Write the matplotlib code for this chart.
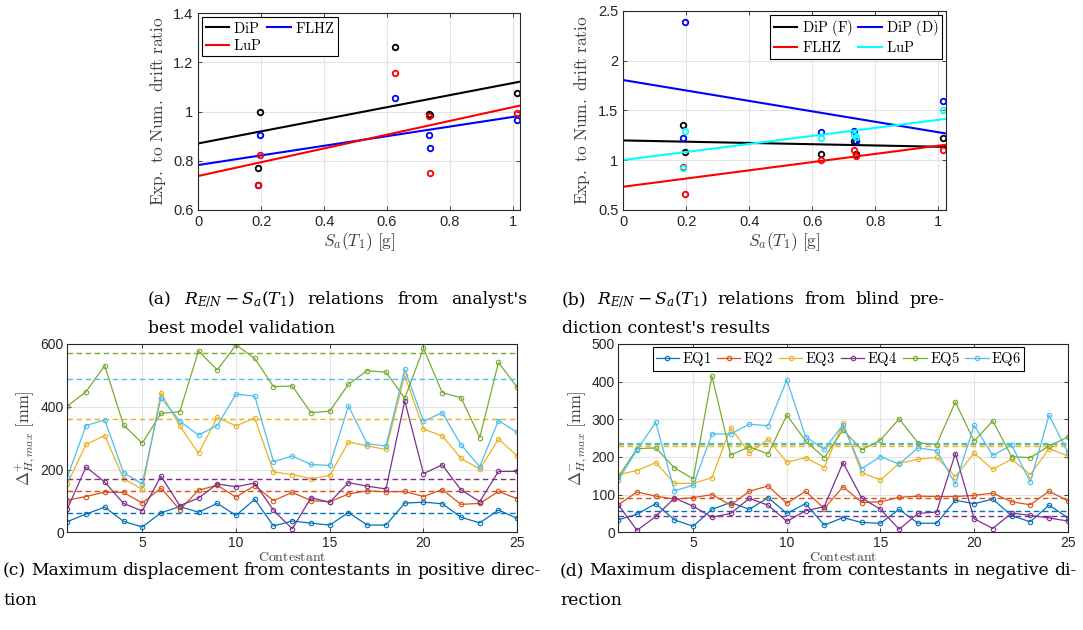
import numpy as np
import matplotlib
matplotlib.use("Agg")
import matplotlib.pyplot as plt

plt.rcParams['mathtext.fontset'] = 'cm'
plt.rcParams['font.family'] = 'Liberation Sans'

# ---- data: top panels (Sa(T1) of the six records) ----
sa = [0.19, 0.197, 0.626, 0.733, 0.738, 1.013]

# (a) analyst's best model
ratio_dip = [0.771, 0.997, 1.263, 0.989, 0.986, 1.077]
ratio_lup = [0.700, 0.822, 1.156, 0.984, 0.752, 0.995]
ratio_flhz = [0.700, 0.904, 1.056, 0.904, 0.852, 0.965]

# (b) blind prediction contest
blind_dipf = [1.354, 1.080, 1.063, 1.197, 1.058, 1.220]
blind_dipd = [1.227, 2.393, 1.287, 1.297, 1.197, 1.599]
blind_flhz = [0.936, 0.661, 0.999, 1.106, 1.042, 1.100]
blind_lup = [0.919, 1.297, 1.224, 1.254, 1.230, 1.502]

# ---- data: bottom panels (25 contestants, EQ1..EQ6) ----
contestant = list(range(1, 26))
eq_names = ['EQ1', 'EQ2', 'EQ3', 'EQ4', 'EQ5', 'EQ6']
eq_colors = ['#0072BD', '#D95319', '#EDB120', '#7E2F8E', '#77AC30', '#4DBEEE']

pos_eq1 = [34, 58, 80, 35, 17, 62, 82, 64, 92, 54, 105, 20, 36, 29, 23, 63, 23, 23, 93, 96, 91, 48, 30, 71, 44]
pos_eq2 = [102, 114, 128, 127, 93, 141, 72, 134, 150, 112, 149, 101, 127, 101, 97, 122, 132, 129, 130, 114, 136, 89, 92, 130, 107]
pos_eq3 = [154, 280, 308, 171, 137, 445, 339, 252, 366, 339, 364, 192, 184, 171, 181, 288, 275, 264, 500, 329, 307, 236, 201, 297, 243]
pos_eq4 = [74, 208, 160, 92, 68, 179, 85, 109, 154, 145, 157, 70, 11, 110, 96, 158, 147, 138, 419, 187, 215, 135, 98, 194, 194]
pos_eq5 = [402, 448, 531, 342, 284, 379, 384, 578, 517, 597, 554, 464, 466, 381, 386, 472, 515, 510, 427, 586, 445, 429, 302, 541, 462]
pos_eq6 = [175, 340, 358, 190, 154, 429, 354, 310, 340, 440, 434, 225, 243, 216, 213, 402, 282, 275, 519, 354, 381, 279, 209, 356, 318]
pos_exp = [62, 133, 360, 170, 570, 490]

neg_eq1 = [33, 48, 76, 33, 16, 61, 79, 61, 92, 50, 76, 19, 39, 26, 24, 61, 24, 24, 85, 76, 88, 44, 28, 72, 39]
neg_eq2 = [73, 107, 96, 88, 92, 100, 72, 109, 123, 77, 109, 63, 121, 79, 81, 93, 96, 95, 95, 98, 104, 81, 73, 109, 84]
neg_eq3 = [153, 164, 185, 130, 130, 145, 278, 210, 247, 186, 198, 172, 289, 158, 139, 183, 194, 199, 148, 210, 167, 194, 153, 222, 203]
neg_eq4 = [73, 5, 42, 91, 69, 40, 50, 90, 72, 29, 57, 68, 185, 91, 61, 8, 50, 54, 209, 36, 10, 51, 45, 38, 30]
neg_eq5 = [147, 222, 224, 171, 142, 415, 205, 227, 208, 311, 243, 198, 272, 219, 245, 301, 238, 233, 346, 242, 296, 201, 198, 229, 253]
neg_eq6 = [139, 219, 292, 110, 125, 261, 261, 287, 283, 404, 254, 220, 286, 169, 201, 181, 224, 217, 128, 284, 204, 232, 134, 311, 213]
neg_exp = [56, 90, 229, 43, 234, 238]

AX_COL = '#262626'
GRID_COL = '#e3e3e3'
W, H = 1083, 630


def style_axes(ax, tick_size, pad=3.5):
  for s in ax.spines.values():
    s.set_color(AX_COL)
    s.set_linewidth(0.8)
  ax.tick_params(direction='in', top=True, right=True, colors=AX_COL,
                 labelsize=tick_size, length=3, width=0.6, pad=pad)
  ax.grid(True, color=GRID_COL, linewidth=0.8)
  ax.set_axisbelow(True)


def fmt(v):
  return '%g' % v


def scatter_fit(ax, x, y, color, label):
  ax.plot(x, y, 'o', mfc='none', mec=color, ms=4, mew=1.3)
  k, b = np.polyfit(x, y, 1)
  xx = np.array([0, 1.023])
  line, = ax.plot(xx, k * xx + b, color=color, lw=1.5, label=label)
  return line


def small_legend(ax, handles, loc):
  lg = ax.legend(handles=handles, loc=loc, ncol=2, fontsize=10.5,
                 frameon=True, fancybox=False, edgecolor='black', framealpha=1,
                 handlelength=1.6, handletextpad=0.3, columnspacing=0.4,
                 borderaxespad=0.25, borderpad=0.25, labelspacing=0.15)
  lg.get_frame().set_linewidth(0.8)


fig = plt.figure(figsize=(10.83, 6.3), dpi=100)

# ---------- (a) ----------
ax1 = fig.add_axes([0.1831, 0.6667, 0.2970, 0.3122])
h_dip = scatter_fit(ax1, sa, ratio_dip, 'black', r'$\mathrm{DiP}$')
h_flhz = scatter_fit(ax1, sa, ratio_flhz, 'blue', r'$\mathrm{FLHZ}$')
h_lup = scatter_fit(ax1, sa, ratio_lup, 'red', r'$\mathrm{LuP}$')
ax1.set_xlim(0, 1.023)
ax1.set_ylim(0.6, 1.4)
ax1.set_xticks([0, 0.2, 0.4, 0.6, 0.8, 1])
ax1.set_yticks([0.6, 0.8, 1.0, 1.2, 1.4])
ax1.set_xticklabels([fmt(v) for v in ax1.get_xticks()])
ax1.set_yticklabels([fmt(v) for v in ax1.get_yticks()])
style_axes(ax1, 10.5)
ax1.set_xlabel(r'$S_a(T_1)\ [\mathrm{g}]$', fontsize=12.5, color='#404040', labelpad=1)
ax1.set_ylabel(r'$\mathrm{Exp.\ to\ Num.\ drift\ ratio}$', fontsize=12.5, color='#404040', labelpad=4)
small_legend(ax1, [h_dip, h_lup, h_flhz], 'upper left')

# ---------- (b) ----------
ax2 = fig.add_axes([0.5755, 0.6667, 0.2977, 0.3159])
h_f = scatter_fit(ax2, sa, blind_dipf, 'black', r'$\mathrm{DiP\ (F)}$')
h_d = scatter_fit(ax2, sa, blind_dipd, 'blue', r'$\mathrm{DiP\ (D)}$')
h_fl = scatter_fit(ax2, sa, blind_flhz, 'red', r'$\mathrm{FLHZ}$')
h_lu = scatter_fit(ax2, sa, blind_lup, 'cyan', r'$\mathrm{LuP}$')
ax2.set_xlim(0, 1.023)
ax2.set_ylim(0.5, 2.5)
ax2.set_xticks([0, 0.2, 0.4, 0.6, 0.8, 1])
ax2.set_yticks([0.5, 1.0, 1.5, 2.0, 2.5])
ax2.set_xticklabels([fmt(v) for v in ax2.get_xticks()])
ax2.set_yticklabels([fmt(v) for v in ax2.get_yticks()])
style_axes(ax2, 10.5)
ax2.set_xlabel(r'$S_a(T_1)\ [\mathrm{g}]$', fontsize=12.5, color='#404040', labelpad=1)
ax2.set_ylabel(r'$\mathrm{Exp.\ to\ Num.\ drift\ ratio}$', fontsize=12.5, color='#404040', labelpad=4)
small_legend(ax2, [h_f, h_fl, h_d, h_lu], 'upper right')


def contest_panel(rect, series, exp_vals, ymax, ystep, ylabel, legend):
  ax = fig.add_axes(rect)
  handles = []
  for vals, ref, c, name in zip(series, exp_vals, eq_colors, eq_names):
    h, = ax.plot(contestant, vals, '-o', color=c, lw=0.9, ms=3.2, mfc='none', mew=0.8,
                 label=r'$\mathrm{%s}$' % name)
    ax.axhline(ref, color=c, lw=1.0, ls=(0, (4, 2.5)))
    handles.append(h)
  ax.set_xlim(1, 25)
  ax.set_ylim(0, ymax)
  ax.set_xticks([5, 10, 15, 20, 25])
  ax.set_yticks(np.arange(0, ymax + 1, ystep))
  style_axes(ax, 10, pad=2.5)
  ax.set_xlabel(r'$\mathrm{Contestant}$', fontsize=10, color='#404040', labelpad=0)
  ax.set_ylabel(ylabel, fontsize=12, color='#404040', labelpad=2)
  if legend:
    lg = ax.legend(handles=handles, loc='upper center', ncol=6, fontsize=10.5,
                   bbox_to_anchor=(0.49, 1.0), frameon=True, fancybox=False,
                   edgecolor='black', framealpha=1, handlelength=1.6,
                   handletextpad=0.2, columnspacing=0.4, borderaxespad=0.2,
                   borderpad=0.2)
    lg.get_frame().set_linewidth(0.8)
  return ax


contest_panel([0.0621, 0.1551, 0.4155, 0.2989],
              [pos_eq1, pos_eq2, pos_eq3, pos_eq4, pos_eq5, pos_eq6], pos_exp,
              600, 200, r'$\Delta^{+}_{H,max}\ [\mathrm{mm}]$', False)
contest_panel([0.5709, 0.1551, 0.4150, 0.2989],
              [neg_eq1, neg_eq2, neg_eq3, neg_eq4, neg_eq5, neg_eq6], neg_exp,
              500, 100, r'$\Delta^{-}_{H,max}\ [\mathrm{mm}]$', True)

# ---------- captions (first lines justified like the paper) ----------
cap = dict(fontsize=12.3, family='DejaVu Serif', math_fontfamily='dejavuserif', color='black',
           va='baseline', ha='left')
renderer = fig.canvas.get_renderer()


def justified(x0, x1, y, words):
  texts = [fig.text(0, 1 - y / H, w, **cap) for w in words]
  widths = [t.get_window_extent(renderer).width for t in texts]
  gap = (x1 - x0 - sum(widths)) / (len(words) - 1)
  x = x0
  for t, w in zip(texts, widths):
    t.set_x(x / W)
    x += w + gap


math_rel = r"$R_{E/N} - S_a(T_1)$"
justified(148, 527, 304, ["(a)", math_rel, "relations", "from", "analyst's"])
fig.text(148 / W, 1 - 333 / H, "best model validation", **cap)
justified(562, 945, 304, ["(b)", math_rel, "relations", "from", "blind", "pre-"])
fig.text(562 / W, 1 - 333 / H, "diction contest's results", **cap)
justified(3, 540, 575, "(c) Maximum displacement from contestants in positive direc-".split())
fig.text(3 / W, 1 - 605 / H, "tion", **cap)
justified(560, 1076, 575, "(d) Maximum displacement from contestants in negative di-".split())
fig.text(560 / W, 1 - 605 / H, "rection", **cap)

fig.savefig('out.png', dpi=100)
